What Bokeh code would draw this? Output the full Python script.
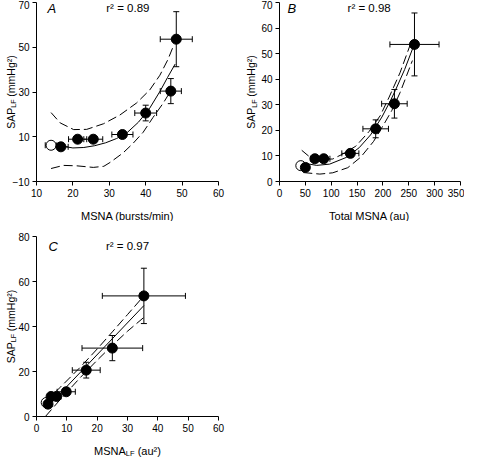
import math
from bokeh.plotting import figure
from bokeh.models import Range1d, FixedTicker, Whisker, TeeHead, ColumnDataSource, Label
from bokeh.layouts import column, row
from bokeh.embed import file_html
from bokeh.resources import INLINE

# ---------------- data ----------------
# SAP low-frequency power (mmHg^2), filled symbols, and its SE
sap_lf = [5.5, 8.9, 8.9, 11.0, 20.6, 30.4, 53.6]
sap_lf_se = [1.0, 1.3, 1.0, 1.5, 3.5, 5.6, 12.3]
# open symbol (baseline)
base_sap = [6.2]
base_sap_se = [0.8]

# Panel A: MSNA (bursts/min)
a_msna = [16.7, 21.3, 25.6, 33.6, 40.0, 46.9, 48.4]
a_msna_se = [2.0, 2.5, 2.6, 2.9, 3.0, 2.9, 4.4]
a_base = [14.0]
a_base_se = [1.6]
a_fit_x = [14.5, 17, 20, 23, 26, 29, 32, 35, 38, 41, 44, 46, 48.1]
a_fit_y = [7.5, 5.8, 5.0, 5.2, 6.0, 7.3, 9.2, 12.0, 16.5, 22.5, 30.5, 36.5, 42.5]
a_hi_x = [14.0, 16.5, 20.2, 23.8, 28.4, 32.9, 37.5, 41.1, 43.9, 46.1, 47.6]
a_hi_y = [20.8, 16.2, 13.2, 13.3, 15.8, 19.7, 25.1, 30.9, 37.5, 44.5, 50.5]
a_lo_x = [14.0, 17.4, 21.1, 25.6, 28.5, 30.2, 33.8, 36.5, 39.3, 42.0, 44.8, 46.5]
a_lo_y = [-4.2, -2.8, -3.0, -3.7, -3.2, -1.5, 2.8, 7.0, 12.0, 18.6, 25.0, 29.5]

# Panel B: total MSNA (au)
b_total = [50.0, 68.4, 85.5, 137.0, 186.0, 222.2, 261.0]
b_total_se = [6.0, 8.0, 12.0, 16.5, 24.7, 24.7, 47.5]
b_base = [41.2]
b_base_se = [5.0]
b_fit_x = [46, 72, 97, 129, 154, 176, 198, 214, 224, 242, 259]
b_fit_y = [7.2, 6.3, 6.8, 9.4, 13.2, 18.2, 25.2, 31.4, 35.6, 43.8, 52.8]
b_hi_x = [43, 59, 80, 103, 122, 147.5, 173, 195, 212, 233, 253]
b_hi_y = [12.2, 9.5, 8.6, 8.8, 10.7, 13.8, 19.5, 25.8, 33.0, 42.5, 53.6]
b_lo_x = [46, 78, 103, 132, 157, 182, 204.5, 217, 233, 257]
b_lo_y = [3.5, 2.9, 3.4, 5.4, 9.5, 15.7, 23.3, 27.7, 34.7, 47.3]

# Panel C: MSNA LF power (au^2)
c_lf = [3.8, 4.8, 6.6, 9.8, 16.4, 25.0, 35.4]
c_lf_se = [0.5, 1.0, 1.5, 3.0, 4.6, 10.0, 13.7]
c_base = [3.2]
c_base_se = [0.6]
c_fit_x = [3.0, 35.4]
c_fit_y = [3.4, 49.3]
c_hi_x = [3.0, 8, 14.5, 20, 25, 30, 35.0]
c_hi_y = [6.7, 13.2, 22.0, 30.0, 37.6, 45.3, 53.0]
c_lo_x = [3.0, 8, 14.5, 20, 25, 30, 35.7]
c_lo_y = [0.1, 7.8, 17.4, 25.0, 31.6, 37.9, 44.4]

a_xticks = [10, 20, 30, 40, 50, 60]
a_yticks = [-10, 10, 30, 50, 70]
b_xticks = [0, 50, 100, 150, 200, 250, 300, 350]
b_yticks = [0, 10, 20, 30, 40, 50, 60, 70]
c_xticks = [0, 10, 20, 30, 40, 50, 60]
c_yticks = [0, 20, 40, 60, 80]

r2_text = ["r² = 0.89", "r² = 0.98", "r² = 0.97"]
panel_letters = ["A", "B", "C"]

FONT = "Liberation Sans"
NB = "\u00a0"
ARIAL = {'S': 667, 'A': 667, 'P': 667, 'L': 556, 'F': 611, ' ': 278, NB: 278, '(': 333, ')': 333,
         'm': 833, 'H': 722, 'g': 556, '²': 333, 'M': 833, 'N': 722, 'a': 556, 'u': 556,
         'T': 611, 'o': 556, 't': 278, 'l': 222, 'b': 556, 'r': 333, 's': 500, '/': 278,
         'i': 222, 'n': 556}

GEOM = {}


def tw(s, size):
    return sum(ARIAL.get(ch, 556) for ch in s) / 1000.0 * size


def make_fig(key, w, h, box_left, box_top, box_w, box_h, xr, yr, xt, yt):
    """Figure whose frame is the whole canvas; the axes are pinned at the plot box."""
    kx = box_w / (xr[1] - xr[0])
    ky = box_h / (yr[1] - yr[0])
    x0 = xr[0] - box_left / kx
    x1 = xr[0] + (w - box_left) / kx
    y1 = yr[1] + box_top / ky
    y0 = yr[0] - (h - box_top - box_h) / ky
    p = figure(width=w, height=h, x_range=Range1d(x0, x1), y_range=Range1d(y0, y1),
               output_backend="svg", toolbar_location=None, title=None, min_border=0)
    p.xgrid.visible = False
    p.ygrid.visible = False
    p.outline_line_color = None
    p.background_fill_color = "white"
    p.border_fill_color = "white"
    p.xaxis.fixed_location = yr[0]
    p.xaxis.bounds = xr
    p.yaxis.fixed_location = xr[0]
    p.yaxis.bounds = yr
    for ax in (p.xaxis[0], p.yaxis[0]):
        ax.axis_line_color = "black"
        ax.major_tick_line_color = "black"
        ax.minor_tick_line_color = None
        ax.major_tick_out = 4
        ax.major_tick_in = 0
        ax.major_label_text_font = FONT
        ax.major_label_text_font_size = "10px"
        ax.major_label_text_color = "black"
        ax.major_label_standoff = 3
    p.xaxis.ticker = FixedTicker(ticks=xt)
    p.yaxis.ticker = FixedTicker(ticks=yt)
    GEOM[key] = (box_left, h - box_top - box_h, box_w, box_h)  # left, bottom (screen), w, h
    return p


def add_points(p, xs, xse, bx, bxse):
    n = len(xs)
    src = ColumnDataSource(dict(
        x=xs, y=sap_lf,
        xl=[xs[i] - xse[i] for i in range(n)], xu=[xs[i] + xse[i] for i in range(n)],
        yl=[sap_lf[i] - sap_lf_se[i] for i in range(n)], yu=[sap_lf[i] + sap_lf_se[i] for i in range(n)]))
    bsrc = ColumnDataSource(dict(
        x=bx, y=base_sap,
        xl=[bx[0] - bxse[0]], xu=[bx[0] + bxse[0]],
        yl=[base_sap[0] - base_sap_se[0]], yu=[base_sap[0] + base_sap_se[0]]))
    for s in (bsrc, src):
        p.add_layout(Whisker(source=s, base="x", lower="yl", upper="yu", dimension="height",
                             line_color="black", line_width=1,
                             upper_head=TeeHead(size=6, line_color="black", line_width=1),
                             lower_head=TeeHead(size=6, line_color="black", line_width=1)))
        p.add_layout(Whisker(source=s, base="y", lower="xl", upper="xu", dimension="width",
                             line_color="black", line_width=1,
                             upper_head=TeeHead(size=6, line_color="black", line_width=1),
                             lower_head=TeeHead(size=6, line_color="black", line_width=1)))
    p.scatter("x", "y", source=bsrc, size=10, marker="circle", fill_color="white", line_color="black", line_width=1)
    p.scatter("x", "y", source=src, size=10, marker="circle", fill_color="black", line_color="black")


def add_fit(p, fx, fy, hx, hy, lx, ly):
    p.line(fx, fy, line_color="black", line_width=1)
    p.line(hx, hy, line_color="black", line_width=1, line_dash="9 4")
    p.line(lx, ly, line_color="black", line_width=1, line_dash="9 4")


def hlabel(p, key, pieces, gap):
    bl, bb, bw, bh = GEOM[key]
    total = sum(tw(t, s) for t, s, d in pieces)
    x = bl + bw / 2 - total / 2
    base_y = bb - gap
    for t, s, d in pieces:
        p.add_layout(Label(x=x, y=base_y - d, x_units="screen", y_units="screen", text=t,
                           text_font=FONT, text_font_size=f"{s}px", text_color="black",
                           text_align="left", text_baseline="alphabetic"))
        x += tw(t, s)


def vlabel(p, key, pieces, gap):
    bl, bb, bw, bh = GEOM[key]
    total = sum(tw(t, s) for t, s, d in pieces)
    y = bb + bh / 2 - total / 2
    base_x = bl - gap
    for t, s, d in pieces:
        p.add_layout(Label(x=base_x + d, y=y, x_units="screen", y_units="screen", text=t,
                           angle=math.pi / 2,
                           text_font=FONT, text_font_size=f"{s}px", text_color="black",
                           text_align="left", text_baseline="alphabetic"))
        y += tw(t, s)


def corner_text(p, letter, lx, ly, r2, rx, ry):
    p.add_layout(Label(x=lx, y=ly, text=letter, text_font=FONT, text_font_style="italic",
                       text_font_size="13px", text_color="black", text_align="center", text_baseline="middle"))
    p.add_layout(Label(x=rx, y=ry, text=r2, text_font=FONT, text_font_size="11.5px",
                       text_color="black", text_align="center", text_baseline="middle"))


SAP_PIECES = [("SAP", 10.5, 0), ("LF", 7, 3), (NB + "(mmHg²)", 10.5, 0)]

# Panel A
pA = make_fig("A", 235, 221, 36, 2, 182, 179, (10, 60), (-10, 70), a_xticks, a_yticks)
add_fit(pA, a_fit_x, a_fit_y, a_hi_x, a_hi_y, a_lo_x, a_lo_y)
add_points(pA, a_msna, a_msna_se, a_base, a_base_se)
corner_text(pA, panel_letters[0], 14.2, 67.4, r2_text[0], 35.1, 67.6)
vlabel(pA, "A", SAP_PIECES, 26)
hlabel(pA, "A", [("MSNA (bursts/min)", 11, 0)], 34)

# Panel B
pB = make_fig("B", 229, 221, 44, 2, 181, 179, (0, 350), (0, 70), b_xticks, b_yticks)
add_fit(pB, b_fit_x, b_fit_y, b_hi_x, b_hi_y, b_lo_x, b_lo_y)
add_points(pB, b_total, b_total_se, b_base, b_base_se)
corner_text(pB, panel_letters[1], 24, 67.6, r2_text[1], 173.4, 67.8)
vlabel(pB, "B", SAP_PIECES, 28.5)
hlabel(pB, "B", [("Total MSNA (au)", 11, 0)], 34)

# Panel C
pC = make_fig("C", 235, 237, 36, 15, 182, 180, (0, 60), (0, 80), c_xticks, c_yticks)
add_fit(pC, c_fit_x, c_fit_y, c_hi_x, c_hi_y, c_lo_x, c_lo_y)
add_points(pC, c_lf, c_lf_se, c_base, c_base_se)
corner_text(pC, panel_letters[2], 5.5, 75.4, r2_text[2], 30.0, 75.6)
vlabel(pC, "C", SAP_PIECES, 26)
hlabel(pC, "C", [("MSNA", 11, 0), ("LF", 7.5, 3), (NB + "(au²)", 11, 0)], 34)

layout = column(row(pA, pB), pC)
open("out.html", "w").write(file_html(layout, INLINE))
